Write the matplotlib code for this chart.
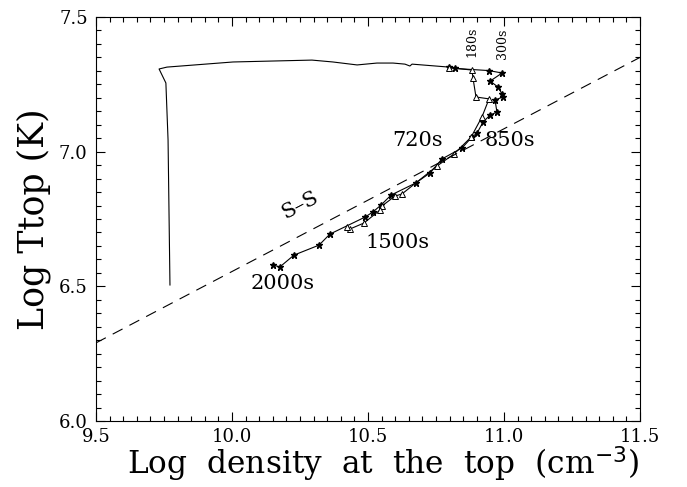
import numpy as np
import matplotlib.pyplot as plt

# initial evolution (no markers)
init_x = [9.772, 9.765, 9.757, 9.732, 9.761, 10.004, 10.169, 10.294, 10.371,
          10.460, 10.533, 10.592, 10.636, 10.654, 10.662, 10.798]
init_y = [6.505, 7.043, 7.255, 7.307, 7.314, 7.333, 7.337, 7.340, 7.333,
          7.322, 7.329, 7.329, 7.325, 7.318, 7.325, 7.314]

# star track
star_x = [10.798, 10.820, 10.945, 10.993, 10.949, 10.978, 10.993, 10.996, 10.967,
          10.974, 10.949, 10.923, 10.901, 10.882, 10.846, 10.772, 10.728, 10.676,
          10.585, 10.548, 10.518, 10.489, 10.360, 10.320, 10.228, 10.176, 10.151]
star_y = [7.314, 7.309, 7.301, 7.292, 7.262, 7.240, 7.214, 7.203, 7.192,
          7.147, 7.136, 7.110, 7.069, 7.054, 7.014, 6.973, 6.921, 6.884,
          6.839, 6.802, 6.776, 6.757, 6.694, 6.653, 6.616, 6.572, 6.579]

# triangle track
tri_x = [10.798, 10.882, 10.886, 10.897, 10.945, 10.919, 10.879, 10.816, 10.754,
         10.625, 10.599, 10.551, 10.544, 10.485, 10.434, 10.423]
tri_y = [7.312, 7.303, 7.273, 7.203, 7.196, 7.129, 7.054, 6.991, 6.947,
         6.843, 6.835, 6.798, 6.783, 6.735, 6.713, 6.720]

# S-S line
ss_x = [9.5, 11.5]
ss_y = [6.29, 7.35]

times = ["180s", "300s", "720s", "850s", "1500s", "2000s"]
time_x = [10.882, 10.993, 10.684, 11.022, 10.610, 10.188]
time_y = [7.407, 7.400, 7.040, 7.040, 6.661, 6.512]

plt.rcParams['font.family'] = ['DejaVu Serif']

fig = plt.figure(figsize=(6.87, 4.87), dpi=100)
ax = fig.add_axes([0.1397, 0.1355, 0.7919, 0.8296])

ax.plot(init_x, init_y, color='black', lw=0.8)
ax.plot(star_x, star_y, color='black', lw=0.8, marker='*', ms=5, mfc='black', mec='black')
ax.plot(tri_x, tri_y, color='black', lw=0.8, marker='^', ms=5, mfc='white', mec='black', mew=0.7)
ax.plot(ss_x, ss_y, color='black', lw=0.8, dashes=(10, 7))

for i, t in enumerate(times):
    if i < 2:
        ax.text(time_x[i], time_y[i], t, fontsize=9, rotation=90, ha='center', va='center')
    else:
        ax.text(time_x[i], time_y[i], t, fontsize=15, ha='center', va='center')
ax.text(10.25, 6.802, "S–S", fontsize=15, rotation=27.7, ha='center', va='center')

ax.set_xlim(9.5, 11.5)
ax.set_ylim(6.0, 7.5)
ax.set_xticks([9.5, 10.0, 10.5, 11.0, 11.5])
ax.set_yticks([6.0, 6.5, 7.0, 7.5])
ax.set_xticks(np.arange(9.5, 11.5001, 0.05), minor=True)
ax.set_yticks(np.arange(6.0, 7.5001, 0.05), minor=True)
ax.xaxis.set_major_formatter(plt.FormatStrFormatter('%.1f'))
ax.yaxis.set_major_formatter(plt.FormatStrFormatter('%.1f'))
ax.tick_params(which='both', direction='in', top=True, right=True, labelsize=13)
ax.tick_params(which='major', length=6.5, width=0.8)
ax.tick_params(which='minor', length=3.5, width=0.8)
ax.tick_params(axis='x', pad=5)
ax.tick_params(axis='y', pad=6)

ax.set_xlabel("Log  density  at  the  top  (cm$^{-3}$)", fontsize=22.5)
ax.set_ylabel("Log Ttop (K)", fontsize=25)
ax.xaxis.set_label_coords(0.528, -0.058)
ax.yaxis.set_label_coords(-0.082, 0.5)

fig.savefig("out.png", dpi=100)
